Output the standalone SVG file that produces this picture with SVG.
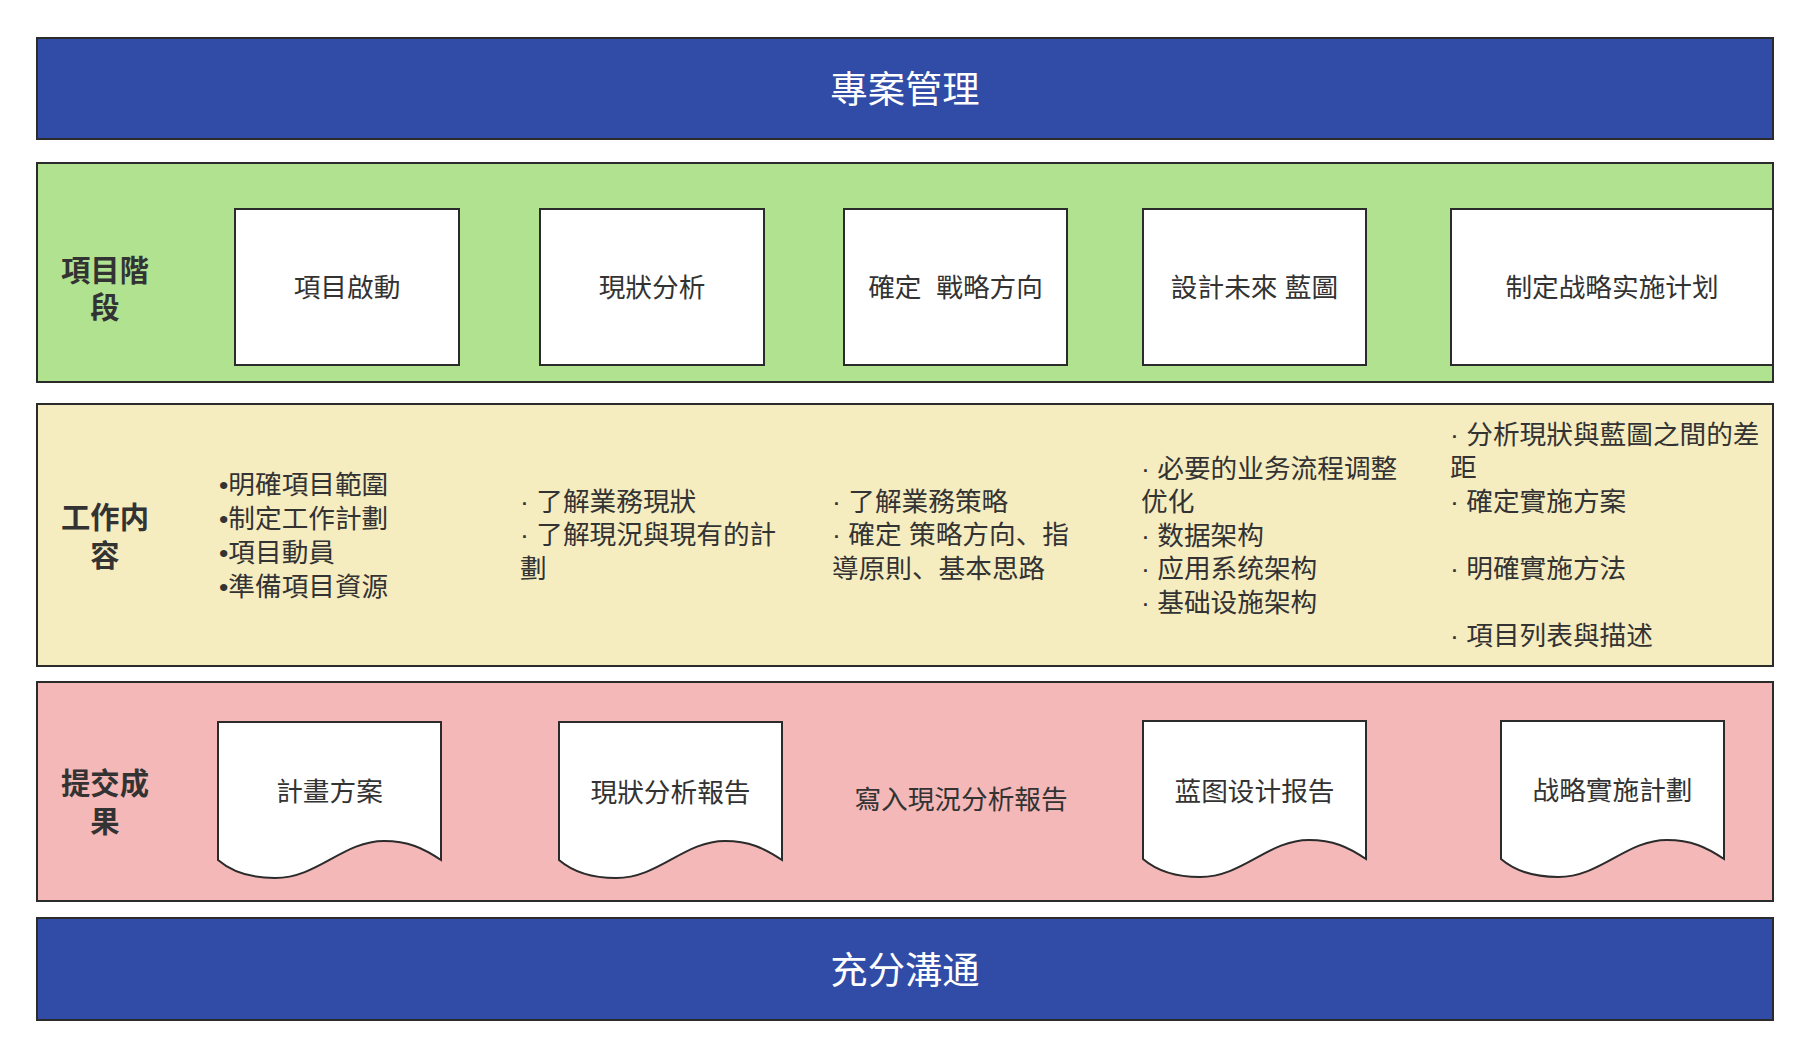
<svg xmlns="http://www.w3.org/2000/svg" xmlns:xlink="http://www.w3.org/1999/xlink" width="1810" height="1057" viewBox="0 0 1810 1057">
<style>
.band{stroke:#2b2b2b;stroke-width:2}
.blue{fill:#304ca6}
.green{fill:#b0e290}
.yellow{fill:#f5ecc0}
.pink{fill:#f4b8b8}
.box{fill:#ffffff;stroke:#2b2b2b;stroke-width:2}
.t{font-family:"Liberation Sans","Noto Sans CJK SC","Noto Sans CJK TC",sans-serif;font-size:26.67px;fill:#333333;dominant-baseline:central}
.c{text-anchor:middle}
.lbl{font-family:"Liberation Sans","Noto Sans CJK SC","Noto Sans CJK TC",sans-serif;font-size:29.3px;font-weight:bold;fill:#333333;text-anchor:middle;dominant-baseline:central}
.big{font-family:"Liberation Sans","Noto Sans CJK SC","Noto Sans CJK TC",sans-serif;font-size:37.33px;fill:#ffffff;text-anchor:middle;dominant-baseline:central}
</style>
<defs>
<path id="doc" d="M0,0 H223 V138 C205,126 190,119 166,119 C125,119 100,156 57,156 C33,156 14,150 0,138 Z" fill="#ffffff" stroke="#2b2b2b" stroke-width="2"/>
</defs>
<rect width="1810" height="1057" fill="#ffffff"/>

<g id="band-top">
<rect class="band blue" x="37" y="38" width="1736" height="101"/>
<text class="big" x="905" y="90">專案管理</text>
</g>

<g id="band-phase">
<rect class="band green" x="37" y="163" width="1736" height="219"/>
<text class="lbl" x="105" y="270">項目階</text>
<text class="lbl" x="105" y="307">段</text>
</g>
<g id="phase-1"><rect class="box" x="235" y="209" width="224" height="156"/><text class="t c" x="347" y="288">項目啟動</text></g>
<g id="phase-2"><rect class="box" x="540" y="209" width="224" height="156"/><text class="t c" x="652" y="288">現狀分析</text></g>
<g id="phase-3"><rect class="box" x="844" y="209" width="223" height="156"/><text class="t c" x="955.5" y="288" xml:space="preserve">確定  戰略方向</text></g>
<g id="phase-4"><rect class="box" x="1143" y="209" width="223" height="156"/><text class="t c" x="1254.5" y="288" xml:space="preserve">設計未來 藍圖</text></g>
<g id="phase-5"><rect class="box" x="1451" y="209" width="322" height="156"/><text class="t c" x="1612" y="288">制定战略实施计划</text></g>

<g id="band-work">
<rect class="band yellow" x="37" y="404" width="1736" height="262"/>
<text class="lbl" x="105" y="517">工作内</text>
<text class="lbl" x="105" y="555">容</text>
</g>
<g id="work-1">
<text class="t" x="219" y="484.5">•明確項目範圍</text>
<text class="t" x="219" y="518.5">•制定工作計劃</text>
<text class="t" x="219" y="552.5">•項目動員</text>
<text class="t" x="219" y="586.5">•準備項目資源</text>
</g>
<g id="work-2">
<text class="t" x="520" y="501.5" xml:space="preserve">· 了解業務現狀</text>
<text class="t" x="520" y="535.3" xml:space="preserve">· 了解現況與現有的計</text>
<text class="t" x="520" y="569">劃</text>
</g>
<g id="work-3">
<text class="t" x="832" y="501.5" xml:space="preserve">· 了解業務策略</text>
<text class="t" x="832" y="535.3" xml:space="preserve">· 確定 策略方向、指</text>
<text class="t" x="832" y="569">導原則、基本思路</text>
</g>
<g id="work-4">
<text class="t" x="1141" y="468.5" xml:space="preserve">· 必要的业务流程调整</text>
<text class="t" x="1141" y="502">优化</text>
<text class="t" x="1141" y="535.5" xml:space="preserve">· 数据架构</text>
<text class="t" x="1141" y="569" xml:space="preserve">· 应用系统架构</text>
<text class="t" x="1141" y="602.5" xml:space="preserve">· 基础设施架构</text>
</g>
<g id="work-5">
<text class="t" x="1450" y="434.5" xml:space="preserve">· 分析現狀與藍圖之間的差</text>
<text class="t" x="1450" y="468">距</text>
<text class="t" x="1450" y="501.5" xml:space="preserve">· 確定實施方案</text>
<text class="t" x="1450" y="568.5" xml:space="preserve">· 明確實施方法</text>
<text class="t" x="1450" y="635.5" xml:space="preserve">· 項目列表與描述</text>
</g>

<g id="band-deliver">
<rect class="band pink" x="37" y="682" width="1736" height="219"/>
<text class="lbl" x="105" y="783">提交成</text>
<text class="lbl" x="105" y="821">果</text>
</g>
<g id="deliver-1"><use xlink:href="#doc" href="#doc" x="218" y="722"/><text class="t c" x="329.5" y="792">計畫方案</text></g>
<g id="deliver-2"><use xlink:href="#doc" href="#doc" x="559" y="722"/><text class="t c" x="670.5" y="793">現狀分析報告</text></g>
<g id="deliver-3"><text class="t c" x="961" y="800">寫入現況分析報告</text></g>
<g id="deliver-4"><use xlink:href="#doc" href="#doc" x="1143" y="721"/><text class="t c" x="1254.5" y="792">蓝图设计报告</text></g>
<g id="deliver-5"><use xlink:href="#doc" href="#doc" x="1501" y="721"/><text class="t c" x="1612.5" y="791">战略實施計劃</text></g>

<g id="band-bottom">
<rect class="band blue" x="37" y="918" width="1736" height="102"/>
<text class="big" x="905" y="971">充分溝通</text>
</g>

<g id="connectors"></g>
</svg>
